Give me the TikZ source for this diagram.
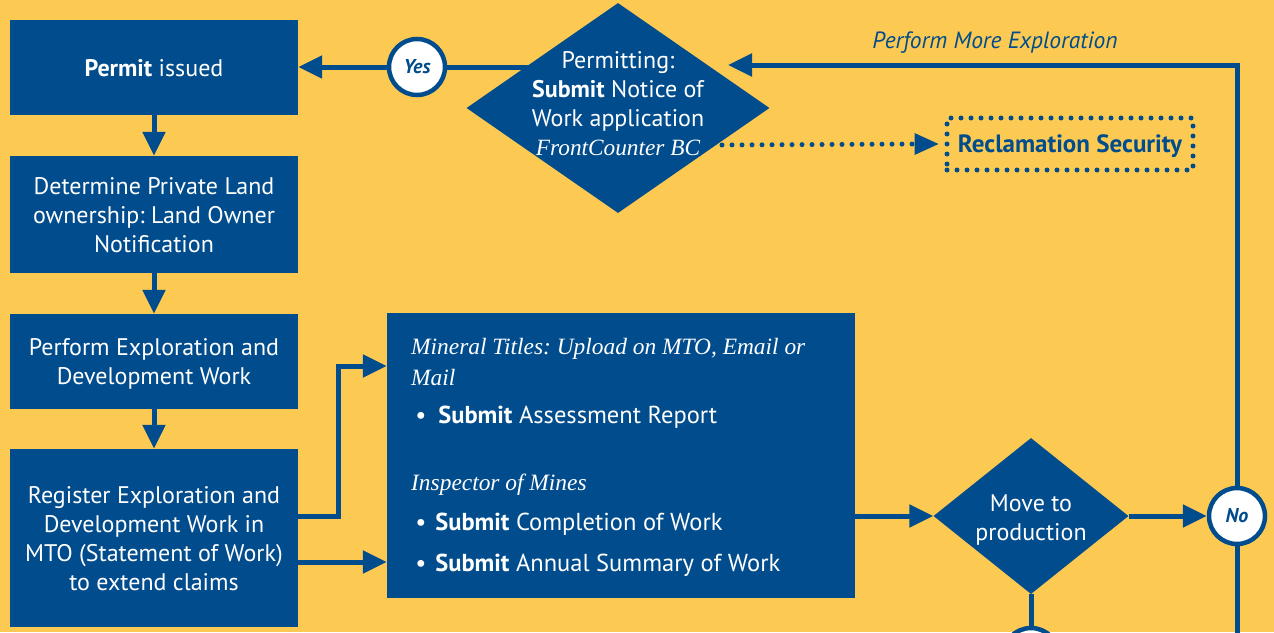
\documentclass[tikz,border=0pt]{standalone}
\usepackage{fontspec}
\setmainfont{PT Sans}
\newfontfamily\serifit{Liberation Serif}
\usetikzlibrary{shapes.geometric,arrows.meta,calc}
\definecolor{bcblue}{RGB}{0,76,140}
\definecolor{bgyel}{RGB}{252,202,82}
\pgfdeclarelayer{bg}
\pgfdeclarelayer{lines}
\pgfsetlayers{bg,lines,main}
\frenchspacing
\begin{document}
\begin{tikzpicture}[x=1pt,y=-1pt,
  txt/.style={font=\fontsize{24}{29}\selectfont},
  box/.style={fill=bcblue,text=white,align=center,inner sep=0pt,txt,minimum width=288pt,text depth=0pt},
  dia/.style={diamond,fill=bcblue,inner sep=0pt},
  ring/.style={circle,fill=white,draw=bcblue,line width=4.5pt,inner sep=0pt,minimum size=56pt,text=bcblue,font=\fontsize{20}{22}\selectfont\bfseries\itshape},
  arr/.style={draw=bcblue,line width=5pt,-{Triangle[length=24pt,width=22pt]}},
  ln/.style={draw=bcblue,line width=5pt},
  dots/.style={draw=bcblue,line width=5pt,line cap=round,dash pattern=on 0pt off 10pt},
  intext/.style={anchor=west,text=white,inner sep=0pt,font=\fontsize{24.5}{29}\selectfont},
  serit/.style={anchor=west,text=white,inner sep=0pt,font=\serifit\itshape\fontsize{23.4}{28}\selectfont,align=left}
]
\begin{pgfonlayer}{bg}
\fill[bgyel] (0,0) rectangle (1274,632);
\end{pgfonlayer}
\useasboundingbox (0,0) rectangle (1274,632);

% left column
\node[box,minimum height=95pt] (b1) at (154,67.5) {\textbf{Permit} issued};
\node[box,minimum height=117pt] (b2) at (154,214.5) {Determine Private Land\\ownership: Land Owner\\Notification};
\node[box,minimum height=95pt] (b3) at (154,361.5) {Perform Exploration and\\Development Work};
\node[box,minimum height=178pt] (b4) at (154,538) {Register Exploration and\\Development Work in\\MTO (Statement of Work)\\to extend claims};

% big box
\node[fill=bcblue,minimum width=468pt,minimum height=285pt,inner sep=0pt] (big) at (621,455.5) {};
\node[serit] (t1) at (411,349) {Mineral Titles: Upload on MTO, Email or};
\node[serit] (t2) at (411,377) {Mail};
\node[intext] (t3) at (411,417) {\,\textbullet\hspace{12pt}\textbf{Submit} Assessment Report};
\node[serit] (t4) at (411,485) {Inspector of Mines};
\node[intext] (t5) at (411,524) {\,\textbullet\hspace{9pt}\textbf{Submit} Completion of Work};
\node[intext] (t6) at (411,565) {\,\textbullet\hspace{9pt}\textbf{Submit} Annual Summary of Work};

% top diamond
\node[dia,minimum width=303pt,minimum height=210pt] (pd) at (618,108) {};
\node[text=white,align=center,inner sep=0pt,txt] (pdt) at (618,104) {Permitting:\\\textbf{Submit} Notice of\\Work application\\{\serifit\itshape\fontsize{23.3}{29}\selectfont FrontCounter BC}};

% move to production diamond
\node[dia,minimum width=195pt,minimum height=156pt] (md) at (1031,516) {};
\node[text=white,align=center,inner sep=0pt,txt] (mdt) at (1031,520) {Move to\\production};

% circles
\node[ring] (yes) at (417,67) {Yes};
\node[ring] (no) at (1237,516) {No};
\node[ring] (bc) at (1031,656) {};

% reclamation
\node[dots,text=bcblue,minimum width=246pt,minimum height=52pt,inner sep=0pt,text depth=0pt,font=\fontsize{25}{28}\selectfont\bfseries] (rs) at (1070,144) {Reclamation Security};

\node[text=bcblue,inner sep=0pt,font=\fontsize{23.5}{26}\selectfont\itshape] (pme) at (995,43) {Perform More Exploration};

\coordinate (corner) at (1237,65);
\coordinate (pin) at (728,65);
\coordinate (ystart) at (545,67);
\coordinate (dstart) at (722,145);
\coordinate (jx) at (338,516);
\coordinate (bottom) at (1237,640);

\begin{pgfonlayer}{lines}
\draw[arr] (b1) -- (b2);
\draw[arr] (b2) -- (b3);
\draw[arr] (b3) -- (b4);
\draw[arr] (b4.east |- jx) -- (jx) -- (jx |- 0,366) -- (big.west |- 0,366);
\draw[arr] (b4.east |- 0,562) -- (big.west |- 0,562);
\draw[arr] (big.east |- md.west) -- (md.west);
\draw[arr] (md.east) -- (no.west);
\draw[arr] (no.north) -- (corner) -- (pin);
\draw[ln] (no.south) -- (bottom);
\draw[ln] (md.south) -- (bc.north);
\draw[arr] (ystart) -- (b1.east |- ystart);
\draw[dots] (dstart) -- ($(rs.west)+(-26,0)$);
\fill[bcblue] ($(rs.west)+(-30,-11)$) -- ($(rs.west)+(-6,0)$) -- ($(rs.west)+(-30,11)$) -- cycle;
\end{pgfonlayer}
\end{tikzpicture}
\end{document}
